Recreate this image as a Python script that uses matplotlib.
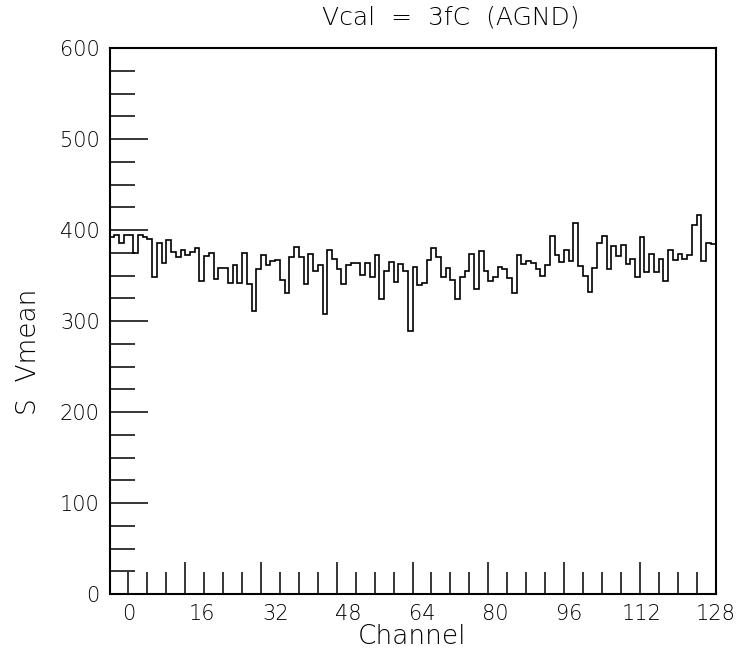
import numpy as np
import matplotlib
matplotlib.use("Agg")
import matplotlib.pyplot as plt
from matplotlib.ticker import MultipleLocator

# ---- data (S Vmean per channel, 128 channels) ----
vmean = [
    392, 395, 386, 395, 395, 375, 394, 392, 390, 348,   # 0-9
    386, 364, 389, 376, 370, 378, 372, 376, 380, 344,   # 10-19
    371, 375, 346, 358, 358, 342, 362, 342, 375, 341,   # 20-29
    311, 357, 373, 362, 366, 367, 345, 331, 370, 381,   # 30-39
    370, 341, 374, 355, 362, 308, 378, 368, 357, 341,   # 40-49
    362, 364, 364, 351, 364, 348, 372, 324, 355, 365,   # 50-59
    343, 363, 355, 289, 359, 340, 342, 367, 380, 370,   # 60-69
    348, 358, 345, 324, 348, 355, 374, 335, 377, 355,   # 70-79
    344, 348, 359, 357, 347, 331, 372, 363, 366, 364,   # 80-89
    357, 350, 361, 393, 372, 365, 378, 366, 408, 360,   # 90-99
    350, 332, 358, 386, 393, 357, 382, 371, 383, 363,   # 100-109
    368, 348, 392, 354, 374, 354, 368, 344, 378, 367,   # 110-119
    374, 368, 372, 405, 417, 366, 386, 385,             # 120-127
]
x_tick_labels = [0, 16, 32, 48, 64, 80, 96, 112, 128]
y_ticks = [0, 100, 200, 300, 400, 500, 600]
title = "Vcal  =  3fC  (AGND)"
xlabel = "Channel"
ylabel = "S  Vmean"

plt.rcParams['font.family'] = ['DejaVu Sans']

fig = plt.figure(figsize=(7.45, 6.61), dpi=100)
ax = fig.add_axes([109.5/745, 1 - 594/661, (715.5-109.5)/745, (594-48)/661])

nb = len(vmean)
edges = np.arange(nb + 1)
ax.stairs(vmean, edges, color='black', linewidth=1.2)

ax.set_xlim(0, nb)
ax.set_ylim(0, 600)

# x ticks (bin grid) without labels
ax.xaxis.set_major_locator(MultipleLocator(16))
ax.xaxis.set_minor_locator(MultipleLocator(4))
ax.tick_params(axis='x', which='both', direction='in', labelbottom=False,
               top=False, width=1.1)
ax.tick_params(axis='x', which='major', length=23)
ax.tick_params(axis='x', which='minor', length=15.5)

# y ticks
ax.set_yticks(y_ticks)
ax.yaxis.set_minor_locator(MultipleLocator(25))
ax.tick_params(axis='y', which='both', direction='in', right=False, width=1.1,
               labelsize=15, pad=7, labelcolor='black')
ax.tick_params(axis='y', which='major', length=27.5)
ax.tick_params(axis='y', which='minor', length=18)
for lab in ax.get_yticklabels():
    lab.set_fontweight('light')

for s in ax.spines.values():
    s.set_linewidth(1.5)

# channel labels (shifted scale as in reference)
def b2c(b):
    return (np.asarray(b) - 4.0) * 128.0 / 124.0

def c2b(c):
    return np.asarray(c) * 124.0 / 128.0 + 4.0

sec = ax.secondary_xaxis('bottom', functions=(b2c, c2b))
sec.set_xticks(x_tick_labels)
sec.tick_params(length=0, labelsize=15, pad=7, labelcolor='black')
sec.spines['bottom'].set_visible(False)
for lab in sec.get_xticklabels():
    lab.set_fontweight('light')
sec.set_xlabel(xlabel, fontsize=19, labelpad=0, fontweight='light', color='black')

ax.set_ylabel(ylabel, fontsize=19, fontweight='light', color='black')
ax.yaxis.set_label_coords(-(109.5 - 41) / 606, (594 - 352) / 546)
ax.set_title(title, fontsize=18, pad=17, fontweight='light', color='black',
             x=(451 - 109.5) / 606)

fig.savefig("out.png", dpi=100)
